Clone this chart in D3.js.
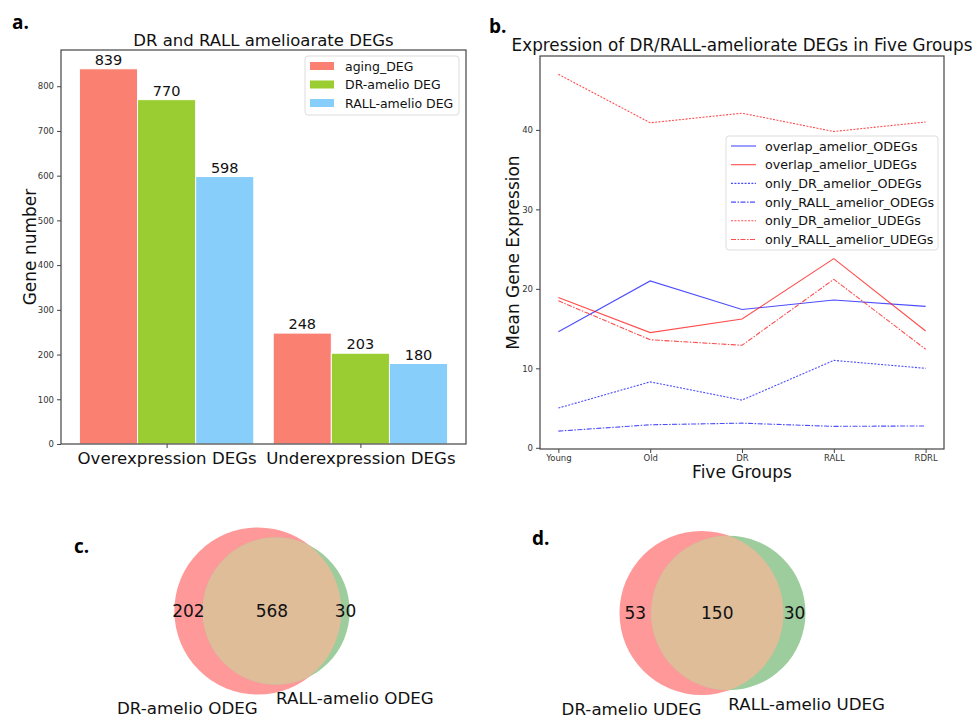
<!DOCTYPE html>
<html>
<head>
<meta charset="utf-8">
<script src="https://cdn.jsdelivr.net/npm/d3@7"></script>
<style>
  body { margin: 0; background: #fff; }
  text { font-family: "DejaVu Sans", sans-serif; fill: #111; }
</style>
</head>
<body>
<div id="root"></div>
<script>
//DATA
const barGroups = ["Overexpression DEGs", "Underexpression DEGs"];
const barSeries = ["aging_DEG", "DR-amelio DEG", "RALL-amelio DEG"];
const barColors = ["#fa8072", "#9acd32", "#87cefa"];
const agingDEG = [839, 248];
const drAmelioDEG = [770, 203];
const rallAmelioDEG = [598, 180];
const barTicks = [0, 100, 200, 300, 400, 500, 600, 700, 800];

const groups = ["Young", "Old", "DR", "RALL", "RDRL"];
const lineNames = ["overlap_amelior_ODEGs", "overlap_amelior_UDEGs", "only_DR_amelior_ODEGs",
  "only_RALL_amelior_ODEGs", "only_DR_amelior_UDEGs", "only_RALL_amelior_UDEGs"];
const overlapODEGs = [14.6, 21.0, 17.4, 18.6, 17.8];
const overlapUDEGs = [18.9, 14.5, 16.2, 23.8, 14.7];
const onlyDrODEGs = [5.0, 8.3, 6.0, 11.0, 10.0];
const onlyRallODEGs = [2.1, 2.9, 3.1, 2.7, 2.75];
const onlyDrUDEGs = [47.0, 40.9, 42.1, 39.8, 41.0];
const onlyRallUDEGs = [18.5, 13.6, 12.9, 21.2, 12.4];
const lineTicks = [0, 10, 20, 30, 40];

const vennLabelsC = ["DR-amelio ODEG", "RALL-amelio ODEG"];
const vennSizesC = [770, 598];
const vennOverlapC = 568;
const vennLabelsD = ["DR-amelio UDEG", "RALL-amelio UDEG"];
const vennSizesD = [203, 180];
const vennOverlapD = 150;

//SVG
const svg = d3.select('#root').append('svg')
  .attr('width', 973).attr('height', 718);

function panelLabel(t, x, y) {
  svg.append('text').attr('x', x).attr('y', y).text(t)
    .style('font-family', '"Open Sans", sans-serif').style('font-weight', 700)
    .style('font-size', '19px').style('fill', '#000');
}

//PANEL A - GROUPED BARS
const xA = d3.scaleLinear().domain([-0.545, 1.545]).range([61, 466]);
const yA = d3.scaleLinear().domain([0, 881]).range([444, 50]);
const barData = [agingDEG, drAmelioDEG, rallAmelioDEG];
const bw = 0.3;

const gA = svg.append('g');
barData.forEach((vals, j) => {
  vals.forEach((v, i) => {
    const cx = i + (j - 1) * bw;
    gA.append('rect')
      .attr('x', xA(cx - bw / 2)).attr('width', xA(bw) - xA(0))
      .attr('y', yA(v)).attr('height', yA(0) - yA(v))
      .attr('fill', barColors[j]).attr('stroke', '#fff').attr('stroke-width', 1);
    gA.append('text').attr('x', xA(cx)).attr('y', yA(v) - 4)
      .attr('text-anchor', 'middle').style('font-size', '14.5px').text(v);
  });
});

const yAxisA = gA.append('g').attr('transform', `translate(${xA.range()[0]},0)`)
  .call(d3.axisLeft(yA).tickValues(barTicks).tickSize(4).tickPadding(3));
yAxisA.selectAll('text').style('font-size', '8.5px').style('fill', '#333');
const xAxisA = gA.append('g').attr('transform', `translate(0,${yA.range()[0]})`)
  .call(d3.axisBottom(xA).tickValues([0, 1]).tickFormat((d, i) => barGroups[i]).tickSize(4).tickPadding(4));
xAxisA.selectAll('text').style('font-size', '16.6px');
[yAxisA, xAxisA].forEach(a => { a.select('.domain').remove(); a.selectAll('line').attr('stroke', '#444'); });

gA.append('rect').attr('x', 61).attr('y', 50).attr('width', 405).attr('height', 394)
  .attr('fill', 'none').attr('stroke', '#444').attr('stroke-width', 1.2);

gA.append('text').attr('x', 263.5).attr('y', 46).attr('text-anchor', 'middle')
  .style('font-size', '16.5px').text('DR and RALL amelioarate DEGs');
gA.append('text').attr('transform', 'translate(36,247) rotate(-90)').attr('text-anchor', 'middle')
  .style('font-size', '17px').text('Gene number');

//legend a
const legA = gA.append('g').attr('transform', 'translate(305,56)');
legA.append('rect').attr('width', 154).attr('height', 59).attr('rx', 3)
  .attr('fill', '#fff').attr('stroke', '#ddd');
barSeries.forEach((s, i) => {
  legA.append('rect').attr('x', 5).attr('y', 6 + i * 18.5).attr('width', 24).attr('height', 8)
    .attr('fill', barColors[i]);
  legA.append('text').attr('x', 40).attr('y', 14.5 + i * 18.5).style('font-size', '12.5px').text(s);
});
panelLabel('a.', 12, 29);

//PANEL B - LINES
const xB = d3.scaleLinear().domain([-0.2, 4.2]).range([540, 944]);
const yB = d3.scaleLinear().domain([-0.15, 49.3]).range([449, 56]);
const lineData = [overlapODEGs, overlapUDEGs, onlyDrODEGs, onlyRallODEGs, onlyDrUDEGs, onlyRallUDEGs];
const lineColors = ['#0000ff', '#ff0000', '#0000ff', '#0000ff', '#ff0000', '#ff0000'];
const lineDash = [null, null, '2,1.4', '5,1.5,1.5,1.5', '2,1.4', '5,1.5,1.5,1.5'];

const gB = svg.append('g');
const line = d3.line().x((d, i) => xB(i)).y(d => yB(d));
lineData.forEach((vals, k) => {
  gB.append('path').datum(vals)
    .attr('fill', 'none').attr('stroke', lineColors[k]).attr('stroke-opacity', 0.7)
    .attr('stroke-width', 1.1).attr('stroke-dasharray', lineDash[k]).attr('d', line);
});

const yAxisB = gB.append('g').attr('transform', `translate(${xB.range()[0]},0)`)
  .call(d3.axisLeft(yB).tickValues(lineTicks).tickSize(4).tickPadding(3));
yAxisB.selectAll('text').style('font-size', '8.5px').style('fill', '#333');
const xAxisB = gB.append('g').attr('transform', `translate(0,${yB.range()[0]})`)
  .call(d3.axisBottom(xB).tickValues(d3.range(groups.length)).tickFormat(i => groups[i]).tickSize(4).tickPadding(2));
xAxisB.selectAll('text').style('font-size', '8.5px').style('fill', '#333');
[yAxisB, xAxisB].forEach(a => { a.select('.domain').remove(); a.selectAll('line').attr('stroke', '#444'); });

gB.append('rect').attr('x', 540).attr('y', 56).attr('width', 404).attr('height', 393)
  .attr('fill', 'none').attr('stroke', '#444').attr('stroke-width', 1.2);
gB.append('text').attr('x', 742).attr('y', 51).attr('text-anchor', 'middle')
  .style('font-size', '16.8px').text('Expression of DR/RALL-ameliorate DEGs in Five Groups');
gB.append('text').attr('transform', 'translate(519,252.5) rotate(-90)').attr('text-anchor', 'middle')
  .style('font-size', '17px').text('Mean Gene Expression');
gB.append('text').attr('x', 742).attr('y', 478).attr('text-anchor', 'middle')
  .style('font-size', '17px').text('Five Groups');

//legend b
const legB = gB.append('g').attr('transform', 'translate(726,136)');
legB.append('rect').attr('width', 212).attr('height', 114).attr('rx', 3)
  .attr('fill', '#fff').attr('stroke', '#ddd');
lineNames.forEach((n, i) => {
  const y = 10 + i * 18.7;
  legB.append('line').attr('x1', 5).attr('x2', 30).attr('y1', y).attr('y2', y)
    .attr('stroke', lineColors[i]).attr('stroke-opacity', 0.7).attr('stroke-width', 1.1)
    .attr('stroke-dasharray', lineDash[i]);
  legB.append('text').attr('x', 39).attr('y', y + 4.5).style('font-size', '12.7px').text(n);
});
panelLabel('b.', 489, 33);

//PANELS C/D - VENN
function lens(r1, r2, d) {
  if (d >= r1 + r2) return 0;
  if (d <= Math.abs(r1 - r2)) return Math.PI * Math.min(r1, r2) ** 2;
  const a = r1 * r1 * Math.acos((d * d + r1 * r1 - r2 * r2) / (2 * d * r1));
  const b = r2 * r2 * Math.acos((d * d + r2 * r2 - r1 * r1) / (2 * d * r2));
  const c = 0.5 * Math.sqrt((-d + r1 + r2) * (d + r1 - r2) * (d - r1 + r2) * (d + r1 + r2));
  return a + b - c;
}

function venn(sizes, overlap, labels, midX, cy, rMax, id) {
  const r = d3.scaleSqrt().domain([0, d3.max(sizes)]).range([0, rMax]);
  const r1 = r(sizes[0]), r2 = r(sizes[1]);
  const target = overlap / sizes[0] * Math.PI * r1 * r1;
  let lo = Math.abs(r1 - r2), hi = r1 + r2;
  for (let k = 0; k < 60; k++) {
    const m = (lo + hi) / 2;
    if (lens(r1, r2, m) > target) lo = m; else hi = m;
  }
  const dist = (lo + hi) / 2;
  const cx1 = midX - (r1 + dist + r2) / 2 + r1;
  const cx2 = cx1 + dist;
  const g = svg.append('g');
  g.append('clipPath').attr('id', 'clip' + id).append('circle')
    .attr('cx', cx1).attr('cy', cy).attr('r', r1);
  g.append('circle').attr('cx', cx1).attr('cy', cy).attr('r', r1).attr('fill', '#ff9999');
  g.append('circle').attr('cx', cx2).attr('cy', cy).attr('r', r2).attr('fill', '#9dcc9d');
  g.append('circle').attr('cx', cx2).attr('cy', cy).attr('r', r2).attr('fill', '#dfbd99')
    .attr('clip-path', `url(#clip${id})`);
  const counts = [sizes[0] - overlap, overlap, sizes[1] - overlap];
  const xs = [(cx1 - r1 + cx2 - r2) / 2, (cx2 - r2 + cx1 + r1) / 2, (cx1 + r1 + cx2 + r2) / 2];
  counts.forEach((c, i) => {
    g.append('text').attr('x', xs[i]).attr('y', cy + 6).attr('text-anchor', 'middle')
      .style('font-size', '17px').text(c);
  });
  const pad = (r1 + r2) / 2 * 0.1;
  g.append('text').attr('x', cx1).attr('y', cy + r1 + pad + 12).attr('text-anchor', 'end')
    .style('font-size', '16.7px').text(labels[0]);
  g.append('text').attr('x', cx2).attr('y', cy + r2 + pad + 12).attr('text-anchor', 'start')
    .style('font-size', '16.7px').text(labels[1]);
}

venn(vennSizesC, vennOverlapC, vennLabelsC, 262, 611, 83.5, 'C');
venn(vennSizesD, vennOverlapD, vennLabelsD, 712.5, 613, 82, 'D');
panelLabel('c.', 74, 553);
panelLabel('d.', 532, 545);
</script>
</body>
</html>
